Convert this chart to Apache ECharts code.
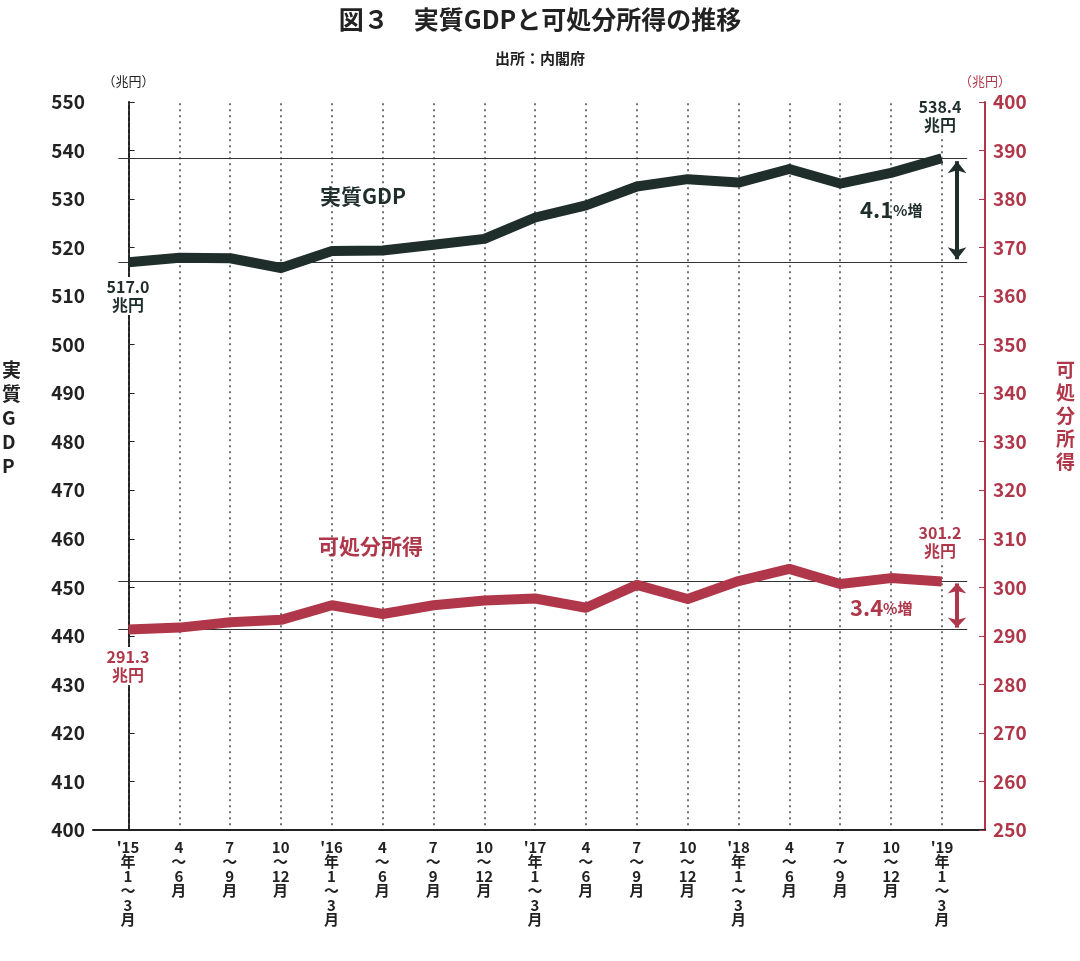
<!DOCTYPE html><html><head><meta charset="utf-8">
<script src="https://cdn.jsdelivr.net/npm/echarts@6/dist/echarts.min.js"></script>
<style>body{margin:0;background:#fff}#c{width:1080px;height:961px}</style></head><body><div id="c"></div><script>
const categories=["'15\n年\n1\n～\n3\n月","4\n～\n6\n月","7\n～\n9\n月","10\n～\n12\n月","'16\n年\n1\n～\n3\n月","4\n～\n6\n月","7\n～\n9\n月","10\n～\n12\n月","'17\n年\n1\n～\n3\n月","4\n～\n6\n月","7\n～\n9\n月","10\n～\n12\n月","'18\n年\n1\n～\n3\n月","4\n～\n6\n月","7\n～\n9\n月","10\n～\n12\n月","'19\n年\n1\n～\n3\n月"];
const gdp=[517.0,517.9,517.8,515.8,519.3,519.4,520.6,521.8,526.2,528.7,532.6,534.1,533.4,536.2,533.2,535.4,538.4];
const income=[291.3,291.7,292.8,293.3,296.3,294.5,296.3,297.3,297.7,295.8,300.5,297.6,301.3,303.8,300.7,301.9,301.2];
const DK='#1f2e2b',RD='#b0374a',F='"Noto Sans CJK JP"';
const n=categories.length;
const lbl=(x,y,t,c)=>({type:'text',x:x,y:y,z:20,style:{text:t,fontSize:16,fontWeight:'bold',fill:c,align:'center',lineHeight:18,fontFamily:F,backgroundColor:'#fff',padding:[1,2]}});
const chart=echarts.init(document.getElementById('c'));
chart.setOption({
 animation:false,
 textStyle:{fontFamily:F},
 title:[{text:'図３　実質GDPと可処分所得の推移',left:'center',top:2,textStyle:{fontSize:25,fontWeight:'bold',color:'#222',fontFamily:F}},
        {text:'出所：内閣府',left:'center',top:46,textStyle:{fontSize:15,fontWeight:'bold',color:'#222',fontFamily:F}}],
 grid:[{left:93,right:95,top:102,bottom:131},{left:128,right:138,top:102,bottom:131}],
 xAxis:[{type:'value',gridIndex:0,min:-0.7,max:n-1+0.85,axisLine:{show:true,onZero:false,lineStyle:{color:'#222',width:2}},axisTick:{show:false},axisLabel:{show:false},splitLine:{show:false}},
  {type:'category',gridIndex:1,data:categories,boundaryGap:false,axisLine:{show:false},axisTick:{show:false},
   axisLabel:{interval:0,fontSize:15,fontWeight:'bold',color:'#222',lineHeight:14.5,margin:10}}],
 yAxis:[{type:'value',gridIndex:0,min:400,max:550,interval:10,name:'（兆円）',nameGap:14,nameTextStyle:{fontSize:13,color:'#222',align:'center'},
   axisLine:{show:true,lineStyle:{color:'#222',width:2}},axisTick:{show:true,length:6,inside:true},axisLabel:{fontSize:19,fontWeight:'bold',color:'#222',margin:8},splitLine:{show:false}},
  {type:'value',gridIndex:0,position:'right',min:250,max:400,interval:10,name:'（兆円）',nameGap:14,nameTextStyle:{fontSize:13,color:RD,align:'center'},
   axisLine:{show:true,lineStyle:{color:RD,width:2}},axisTick:{show:true,length:6,inside:true,lineStyle:{color:RD}},axisLabel:{fontSize:19,fontWeight:'bold',color:RD,margin:8},splitLine:{show:false}},
  {type:'value',gridIndex:1,show:false,min:0,max:1}],
 series:[
  {type:'line',xAxisIndex:0,yAxisIndex:0,data:[],
   markLine:{silent:true,symbol:'none',label:{show:false},lineStyle:{color:'#444',type:[2,4],width:1.5},
    data:categories.map((c,i)=>[{coord:[i,401]},{coord:[i,550]}])}},
  {type:'line',xAxisIndex:0,yAxisIndex:0,data:[],
   markLine:{silent:true,symbol:'none',label:{show:false},lineStyle:{color:'#333',type:'solid',width:1.2},
    data:[[{coord:[-0.2,gdp[0]]},{coord:[16.5,gdp[0]]}],[{coord:[-0.2,gdp[16]]},{coord:[16.5,gdp[16]]}]]}},
  {type:'line',xAxisIndex:0,yAxisIndex:1,data:[],
   markLine:{silent:true,symbol:'none',label:{show:false},lineStyle:{color:'#333',type:'solid',width:1.2},
    data:[[{coord:[-0.2,income[0]]},{coord:[16.5,income[0]]}],[{coord:[-0.2,income[16]]},{coord:[16.5,income[16]]}]]}},
  {type:'line',xAxisIndex:0,yAxisIndex:0,data:[],
   markLine:{silent:true,symbol:['arrow','arrow'],symbolSize:[14,12],label:{show:false},lineStyle:{color:DK,type:'solid',width:4},
    data:[[{coord:[16.3,gdp[16]-0.6]},{coord:[16.3,gdp[0]+0.6]}]]}},
  {type:'line',xAxisIndex:0,yAxisIndex:1,data:[],
   markLine:{silent:true,symbol:['arrow','arrow'],symbolSize:[14,10],label:{show:false},lineStyle:{color:RD,type:'solid',width:4},
    data:[[{coord:[16.3,income[16]-0.4]},{coord:[16.3,income[0]+0.4]}]]}},
  {type:'line',xAxisIndex:0,yAxisIndex:0,data:gdp.map((v,i)=>[i,v]),symbol:'none',lineStyle:{color:DK,width:10,join:'round'},z:5},
  {type:'line',xAxisIndex:0,yAxisIndex:1,data:income.map((v,i)=>[i,v]),symbol:'none',lineStyle:{color:RD,width:10,join:'round'},z:5}
 ],
 graphic:[
  {type:'text',left:320,top:186,style:{text:'実質GDP',fontSize:21,fontWeight:'bold',fill:DK,fontFamily:F}},
  {type:'text',left:318,top:536,style:{text:'可処分所得',fontSize:21,fontWeight:'bold',fill:RD,fontFamily:F}},
  lbl(128,277,'517.0\n兆円',DK),
  lbl(940,97,'538.4\n兆円',DK),
  lbl(128,647,'291.3\n兆円',RD),
  lbl(940,523,'301.2\n兆円',RD),
  {type:'text',left:860,top:199,style:{rich:{a:{fontSize:22,fontWeight:'bold',fill:DK,fontFamily:F},b:{fontSize:15,fontWeight:'bold',fill:DK,fontFamily:F}},text:'{a|4.1}{b|%増}'}},
  {type:'text',left:850,top:597,style:{rich:{a:{fontSize:22,fontWeight:'bold',fill:RD,fontFamily:F},b:{fontSize:15,fontWeight:'bold',fill:RD,fontFamily:F}},text:'{a|3.4}{b|%増}'}},
  {type:'text',left:2,top:358,style:{text:'実\n質\nG\nD\nP',fontSize:19,fontWeight:'bold',fill:'#222',lineHeight:24,fontFamily:F}},
  {type:'text',left:1056,top:358,style:{text:'可\n処\n分\n所\n得',fontSize:19,fontWeight:'bold',fill:RD,lineHeight:23,fontFamily:F}}
 ]
});
</script></body></html>
